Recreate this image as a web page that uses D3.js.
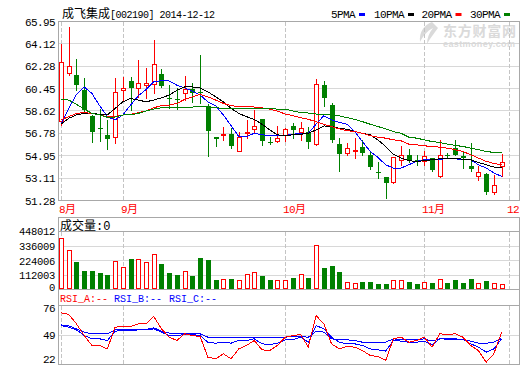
<!DOCTYPE html>
<html>
<head>
<meta charset="utf-8">
<script src="https://cdn.jsdelivr.net/npm/d3@7"></script>
<style>
  body { margin: 0; background: #fff; }
  svg { display: block; }
</style>
</head>
<body>
<svg id="chart" width="520" height="365"></svg>
<script>
// daily candles, 58 trading days
const opens = [57.83, 61.73, 61.60, 60.30, 58.18, 57.22, 56.63, 56.52, 60.32, 61.06,
  60.54, 60.78, 60.84, 61.65, 59.64, 59.62, 60.13, 60.40, 60.15, 59.05,
  56.49, 56.75, 56.71, 55.30, 56.83, 57.15, 57.93, 56.10, 56.17, 56.66,
  57.42, 56.93, 56.87, 55.90, 60.76, 59.07, 55.90, 55.14, 55.33, 55.65,
  55.03, 53.62, 53.18, 52.77, 54.62, 55.03, 54.56, 54.49, 54.76, 53.26,
  55.03, 55.57, 54.92, 54.08, 53.26, 53.45, 51.96, 54.08];
const highs = [64.12, 65.51, 62.90, 61.35, 58.29, 58.75, 57.91, 61.35, 61.41, 61.38,
  62.82, 62.14, 64.42, 62.09, 60.73, 60.54, 61.49, 60.92, 63.17, 59.20,
  56.50, 57.28, 57.20, 56.87, 57.91, 58.70, 57.95, 56.52, 57.42, 57.20,
  57.61, 57.74, 57.33, 61.27, 61.11, 59.24, 56.39, 55.98, 56.39, 56.25,
  55.30, 54.43, 53.20, 54.82, 55.76, 55.51, 54.97, 55.36, 54.80, 56.25,
  55.17, 56.22, 55.36, 55.98, 54.08, 53.54, 53.35, 55.08];
const lows = [57.47, 61.60, 60.32, 58.56, 56.09, 56.12, 55.49, 56.03, 59.51, 58.70,
  59.78, 59.72, 60.13, 60.57, 58.84, 58.78, 59.51, 59.37, 59.24, 54.89,
  55.71, 56.22, 55.57, 55.30, 56.39, 56.79, 55.79, 55.90, 56.06, 56.12,
  56.39, 56.25, 55.60, 55.85, 59.05, 56.10, 53.67, 54.97, 54.76, 55.03,
  53.86, 53.13, 51.50, 52.72, 54.22, 54.43, 54.22, 54.22, 53.72, 53.18,
  54.81, 55.00, 53.94, 53.67, 53.00, 51.85, 51.85, 53.26];
const closes = [62.63, 62.30, 60.73, 58.72, 56.90, 57.18, 56.33, 60.19, 60.46, 60.53,
  60.92, 60.92, 62.47, 60.65, 59.60, 59.58, 60.43, 60.13, 60.11, 56.98,
  56.33, 56.76, 55.71, 56.52, 56.86, 57.42, 56.17, 56.00, 56.44, 57.17,
  57.06, 57.26, 56.11, 60.84, 59.67, 56.20, 55.11, 55.55, 55.44, 55.17,
  54.00, 53.51, 52.69, 54.81, 55.03, 54.54, 54.52, 54.92, 53.81, 54.97,
  54.92, 55.03, 54.76, 53.89, 53.59, 51.96, 52.53, 54.43];
const volumes = [396400, 302600, 211100, 148600, 148600, 132900, 117300, 224400, 177500, 234600,
  240000, 216600, 279100, 195500, 127400, 117300, 146200, 107100, 242400, 226700,
  75800, 83700, 86000, 75800, 122800, 138400, 109500, 78200, 75800, 75800,
  93800, 122800, 93800, 341700, 172000, 187600, 140700, 62500, 54700, 64900,
  64900, 49300, 49300, 75800, 75800, 64900, 49300, 62500, 57100, 83700,
  57100, 78200, 57100, 86000, 54700, 70400, 54700, 44600];

// moving averages as drawn on the chart
const ma5 = [57.53, 58.83, 59.97, 60.59, 60.05, 59.05, 58.15, 57.88, 58.29, 59.10,
  59.86, 60.38, 61.00, 61.11, 61.08, 60.73, 60.51, 60.24, 59.92, 59.37,
  59.05, 58.29, 57.42, 56.52, 56.52, 56.79, 56.66, 56.60, 56.60, 56.60,
  56.71, 56.77, 56.79, 57.53, 58.23, 57.88, 57.69, 57.53, 56.93, 56.11,
  55.30, 54.81, 54.21, 53.94, 53.94, 54.21, 54.49, 54.62, 54.62, 54.62,
  54.76, 54.70, 54.62, 54.62, 54.21, 53.94, 53.54, 53.26];
const ma10 = [57.53, 58.02, 58.29, 58.42, 58.42, 58.34, 58.29, 58.83, 59.37, 59.64,
  59.51, 59.37, 59.51, 59.70, 59.92, 60.32, 60.59, 60.59, 60.51, 60.19,
  59.78, 59.37, 58.83, 58.42, 58.15, 57.93, 57.53, 57.07, 56.66, 56.60,
  56.66, 56.71, 56.79, 57.07, 57.39, 57.34, 57.20, 57.12, 56.93, 56.79,
  56.66, 56.25, 55.71, 55.08, 54.76, 54.54, 54.49, 54.54, 54.62, 54.70,
  54.76, 54.76, 54.65, 54.62, 54.40, 54.21, 54.02, 54.00];
const ma20 = [57.88, 58.15, 58.42, 58.48, 58.42, 58.29, 58.15, 58.15, 58.29, 58.34,
  58.48, 58.61, 58.88, 59.05, 59.10, 59.24, 59.56, 59.78, 59.97, 59.78,
  59.51, 59.24, 59.05, 58.97, 58.97, 58.94, 58.88, 58.77, 58.61, 58.37,
  58.23, 58.07, 57.93, 57.74, 57.53, 57.34, 57.15, 57.01, 56.93, 56.79,
  56.60, 56.47, 56.39, 56.25, 56.17, 55.90, 55.84, 55.76, 55.71, 55.65,
  55.57, 55.44, 55.30, 55.03, 54.76, 54.49, 54.32, 54.21];
const ma30 = [59.56, 59.51, 59.16, 58.77, 58.42, 58.29, 58.10, 58.12, 58.29, 58.31,
  58.42, 58.61, 58.77, 58.88, 58.88, 58.88, 58.91, 58.94, 59.00, 58.97,
  58.88, 58.83, 58.80, 58.80, 58.80, 58.80, 58.83, 58.83, 58.77, 58.77,
  58.61, 58.50, 58.45, 58.37, 58.34, 58.34, 58.21, 58.07, 57.93, 57.74,
  57.53, 57.34, 57.15, 56.93, 56.79, 56.47, 56.39, 56.25, 56.11, 56.03,
  55.90, 55.79, 55.71, 55.57, 55.44, 55.30, 55.22, 55.19];

// RSI lines
const rsiA = [69.3, 67.8, 59.2, 48.5, 39.4, 39.4, 36.3, 56.2, 56.8, 56.8,
  59.2, 59.2, 65.9, 54.6, 47.0, 44.0, 50.1, 48.5, 47.6, 28.7,
  27.2, 31.8, 27.2, 36.3, 39.4, 44.0, 35.4, 34.8, 39.4, 47.0,
  48.5, 49.5, 37.9, 66.8, 59.2, 40.9, 36.3, 38.5, 37.9, 34.8,
  30.2, 29.3, 25.7, 45.5, 47.0, 42.4, 44.0, 47.0, 37.9, 50.1,
  49.5, 50.1, 47.0, 39.4, 34.8, 24.1, 31.8, 51.6];
const rsiB = [58.3, 57.4, 54.6, 51.6, 50.1, 50.1, 50.1, 53.7, 53.7, 53.7,
  53.7, 54.0, 55.6, 52.5, 50.7, 50.7, 50.1, 50.1, 50.1, 47.0,
  47.0, 47.0, 46.4, 47.0, 47.0, 47.0, 46.4, 46.4, 46.4, 47.0,
  47.6, 47.6, 47.0, 52.5, 51.6, 45.5, 44.6, 44.6, 44.0, 42.4,
  41.8, 41.8, 42.4, 45.5, 44.6, 44.6, 44.6, 45.5, 43.4, 45.5,
  45.5, 45.5, 44.6, 43.4, 41.5, 41.5, 42.4, 46.4];
const rsiC = [57.7, 56.2, 53.7, 48.5, 45.5, 45.5, 44.0, 52.5, 53.1, 53.1,
  53.7, 53.7, 54.6, 51.6, 48.5, 48.5, 49.5, 49.5, 48.5, 42.4,
  41.5, 42.4, 41.5, 44.0, 44.0, 45.5, 40.9, 40.3, 41.5, 44.6,
  44.6, 47.0, 42.4, 57.7, 54.6, 47.0, 42.4, 40.9, 40.9, 39.4,
  36.3, 35.4, 34.2, 44.0, 43.4, 42.4, 42.4, 43.4, 40.3, 45.5,
  45.2, 45.2, 44.9, 40.9, 37.9, 33.3, 36.3, 45.5];

const priceTicks = [51.28, 53.11, 54.95, 56.78, 58.62, 60.45, 62.28, 64.12, 65.95];
const volTicks = [0, 112003, 224006, 336009, 448012];
const rsiTicks = [22, 49, 76];
const monthIdx = [0, 8, 29, 47, 58];
const monthLabels = ["8月", "9月", "10月", "11月", "12"];
const maNames = ["5PMA", "10PMA", "20PMA", "30PMA"];
const maColors = ["#0000ff", "#000000", "#ff0000", "#008000"];

const RED = "#ff0000", GREEN = "#008000";
const FRAME = "#a8a8a8", GRID = "#d8d8d8", DASH = "#c4c4c4";
const MONO = "'Liberation Mono', 'Noto Sans CJK SC', monospace";
const CJK = "'Noto Sans CJK SC', sans-serif";

const svg = d3.select("#chart");
const L = 58.5, R = 519.5;

// scales
const x = d3.scaleLinear().domain([0, 57]).range([61, 501.6]);
const yP = d3.scaleLinear().domain([51.28, 65.95]).range([200.5, 21.5]);
const yV = d3.scaleLinear().domain([0, 448012]).range([290, 231.5]);
const yR = d3.scaleLinear().domain([22, 76]).range([364.5, 305.5]);

const candles = d3.range(opens.length).map((i) => ({
  i, o: opens[i], h: highs[i], l: lows[i], c: closes[i], v: volumes[i],
}));
const up = (d) => d.c >= d.o;
const cx = (d) => Math.round(x(d.i));

// watermark (东方财富网)
const wm = svg.append("g").attr("fill", "#dadada");
wm.append("path")
  .attr("d", "M432,22 C424,25 419,32 420,42 C423,36 427,31 433,28 C429,33 427,38 427,44 C431,37 435,32 438,28 C436,26 434,24 432,22 Z");
wm.append("text").attr("x", 443).attr("y", 36)
  .style("font-family", CJK).style("font-size", "14px").style("font-weight", "bold")
  .attr("textLength", 73).text("东方财富网");
wm.append("text").attr("x", 443).attr("y", 47)
  .style("font-family", "'Liberation Sans', sans-serif").style("font-size", "9px").style("font-weight", "bold")
  .attr("textLength", 72).text("eastmoney.com");

// title and legend
const title = svg.append("text").attr("x", 62).attr("y", 18);
title.append("tspan").style("font-family", CJK).style("font-size", "12px").text("成飞集成");
title.append("tspan").style("font-family", MONO).style("font-size", "10px")
  .style("letter-spacing", "-0.5px").text("[002190] 2014-12-12");

const legX = [331, 374, 421.5, 470];
maNames.forEach((n, k) => {
  svg.append("text").attr("x", legX[k]).attr("y", 18)
    .style("font-family", MONO).style("font-size", "11px").style("letter-spacing", "-0.6px")
    .text(n);
  svg.append("rect").attr("x", legX[k] + n.length * 6 + 4).attr("y", 13)
    .attr("width", 6).attr("height", 3).attr("fill", maColors[k]);
});

// panel frames and grids
function hline(y, color) {
  svg.append("line").attr("x1", L).attr("x2", R).attr("y1", y).attr("y2", y)
    .attr("stroke", color).attr("shape-rendering", "crispEdges");
}
function vframe(y1, y2) {
  [L, R].forEach((xx) => {
    svg.append("line").attr("x1", xx).attr("x2", xx).attr("y1", y1).attr("y2", y2)
      .attr("stroke", FRAME).attr("shape-rendering", "crispEdges");
  });
}
function vdash(y1, y2) {
  monthIdx.forEach((m) => {
    const xx = Math.round(x(m)) + 0.5;
    svg.append("line").attr("x1", xx).attr("x2", xx).attr("y1", y1).attr("y2", y2)
      .attr("stroke", DASH).attr("stroke-dasharray", "4,2").attr("shape-rendering", "crispEdges");
  });
}

priceTicks.slice(1, -1).forEach((t) => hline(Math.floor(yP(t)) + 0.5, GRID));
volTicks.slice(1, -1).forEach((t) => hline(Math.floor(yV(t)) + 0.5, GRID));
rsiTicks.slice(1, -1).forEach((t) => hline(Math.floor(yR(t)) + 0.5, GRID));
vdash(22, 200);
vdash(232, 289);
vdash(306, 364);
hline(21.5, FRAME); hline(200.5, FRAME);
hline(217.5, FRAME); hline(231.5, FRAME); hline(289.5, FRAME);
hline(305.5, FRAME); hline(364.5, FRAME);
vframe(21, 201);
vframe(217, 365);

// axes labels
function styleAxis(g, size) {
  g.select(".domain").remove();
  g.selectAll("text").style("font-family", MONO).style("font-size", size + "px")
    .style("letter-spacing", size > 10.5 ? "-0.6px" : "-0.3px").attr("fill", "#000");
}
svg.append("g").attr("transform", "translate(58,0)")
  .call(d3.axisLeft(yP).tickValues(priceTicks).tickSize(0).tickPadding(3).tickFormat(d3.format(".2f")))
  .call(styleAxis, 11);
svg.append("g").attr("transform", "translate(58,0)")
  .call(d3.axisLeft(yV).tickValues(volTicks).tickSize(0).tickPadding(3).tickFormat(d3.format("d")))
  .call(styleAxis, 10.5)
  .selectAll("text").attr("dy", (d) => (d === 0 ? "0em" : "0.32em"));
svg.append("g").attr("transform", "translate(58,0)")
  .call(d3.axisLeft(yR).tickValues(rsiTicks).tickSize(0).tickPadding(3).tickFormat(d3.format("d")))
  .call(styleAxis, 11)
  .selectAll("text").attr("dy", (d) => (d === 76 ? "0.5em" : d === 22 ? "-0.2em" : "0.32em"));

// month labels
svg.append("g").selectAll("text").data(monthIdx).join("text")
  .attr("x", (m) => Math.round(x(m)) - 2).attr("y", 212.5)
  .attr("fill", RED).style("font-family", MONO).style("font-size", "11px")
  .style("letter-spacing", "-0.6px")
  .text((m, k) => monthLabels[k]);

// panel headers
svg.append("text").attr("x", 60).attr("y", 229.5)
  .style("font-family", MONO).style("font-size", "12px").text("成交量:0");
const rsiHead = svg.append("text").attr("x", 60).attr("y", 301.5)
  .style("font-family", MONO).style("font-size", "10px");
rsiHead.append("tspan").attr("fill", RED).text("RSI_A:--");
rsiHead.append("tspan").attr("fill", "#0000ff").attr("dx", 6).text("RSI_B:--");
rsiHead.append("tspan").attr("fill", "#0000ff").attr("dx", 7).text("RSI_C:--");

// candles
const gC = svg.append("g").attr("shape-rendering", "crispEdges");
gC.selectAll("line").data(candles).join("line")
  .attr("x1", (d) => cx(d) + 0.5).attr("x2", (d) => cx(d) + 0.5)
  .attr("y1", (d) => Math.round(yP(d.h))).attr("y2", (d) => Math.round(yP(d.l)) + 1)
  .attr("stroke", (d) => (up(d) ? RED : GREEN));
gC.selectAll("rect").data(candles).join("rect")
  .each(function (d) {
    const top = Math.round(yP(Math.max(d.o, d.c)));
    const bot = Math.round(yP(Math.min(d.o, d.c)));
    const s = d3.select(this);
    if (up(d)) {
      s.attr("x", cx(d) - 1.5).attr("width", 4)
        .attr("y", top + 0.5).attr("height", Math.max(1, bot - top))
        .attr("fill", "#fff").attr("stroke", RED);
    } else {
      s.attr("x", cx(d) - 2).attr("width", 5)
        .attr("y", top).attr("height", Math.max(1, bot - top))
        .attr("fill", GREEN);
    }
  });

// moving averages
const maData = [ma5, ma10, ma20, ma30];
const maLine = d3.line().x((v, i) => x(i)).y((v) => yP(v));
maData.forEach((arr, k) => {
  svg.append("path").datum(arr).attr("d", maLine)
    .attr("fill", "none").attr("stroke", maColors[k]).attr("stroke-width", 1)
    .attr("shape-rendering", "crispEdges");
});

// volume bars
const gV = svg.append("g").attr("shape-rendering", "crispEdges");
gV.selectAll("rect").data(candles).join("rect")
  .each(function (d) {
    const top = Math.round(yV(d.v));
    const s = d3.select(this);
    if (up(d)) {
      s.attr("x", cx(d) - 1.5).attr("width", 4)
        .attr("y", top + 0.5).attr("height", 288 - top)
        .attr("fill", "#fff").attr("stroke", RED);
    } else {
      s.attr("x", cx(d) - 2).attr("width", 5)
        .attr("y", top).attr("height", 289 - top).attr("fill", GREEN);
    }
  });

// RSI lines
const rsiLine = d3.line().x((v, i) => x(i)).y((v) => yR(v));
[[rsiC, "#0000ff"], [rsiB, "#0000ff"], [rsiA, RED]].forEach(([arr, col]) => {
  svg.append("path").datum(arr).attr("d", rsiLine)
    .attr("fill", "none").attr("stroke", col).attr("stroke-width", 1)
    .attr("shape-rendering", "crispEdges");
});
</script>
</body>
</html>
